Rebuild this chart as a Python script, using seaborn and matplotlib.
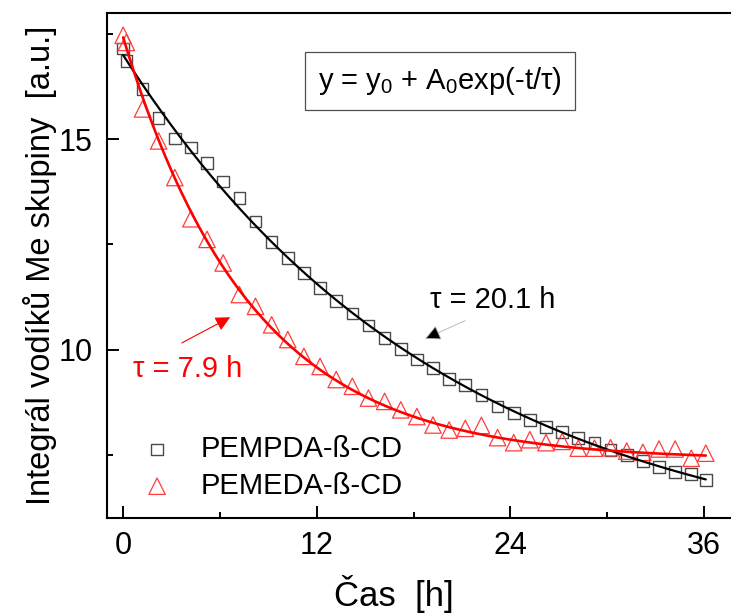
import numpy as np
import pandas as pd
import matplotlib
matplotlib.use("Agg")
import matplotlib.pyplot as plt
import seaborn as sns

# cas [h] a integral vodiku Me skupiny
cas = [0, 0.2, 1.2, 2.2, 3.2, 4.2, 5.2, 6.2, 7.2, 8.2, 9.2, 10.2, 11.2, 12.2,
       13.2, 14.2, 15.2, 16.2, 17.2, 18.2, 19.2, 20.2, 21.2, 22.2, 23.2, 24.2,
       25.2, 26.2, 27.2, 28.2, 29.2, 30.2, 31.2, 32.2, 33.2, 34.2, 35.2, 36.1]
pempda = [17.16, 16.86, 16.19, 15.51, 15.02, 14.80, 14.44, 14.00, 13.60, 13.05,
          12.56, 12.18, 11.82, 11.47, 11.15, 10.86, 10.57, 10.28, 10.01, 9.77,
          9.57, 9.30, 9.16, 8.93, 8.65, 8.49, 8.33, 8.16, 8.05, 7.90, 7.78, 7.62,
          7.49, 7.36, 7.21, 7.10, 7.04, 6.90]
pemeda = [17.47, 17.30, 15.72, 14.96, 14.09, 13.11, 12.62, 12.06, 11.31, 11.03,
          10.59, 10.24, 9.84, 9.60, 9.29, 9.13, 8.85, 8.77, 8.57, 8.41, 8.21,
          8.09, 8.13, 8.20, 7.91, 7.79, 7.86, 7.79, 7.82, 7.66, 7.66, 7.67, 7.59,
          7.56, 7.64, 7.64, 7.42, 7.54]

# parametry fitu y = y0 + A0*exp(-t/tau)
fit_pempda = {"y0": 4.91, "A0": 12.09, "tau": 20.1}
fit_pemeda = {"y0": 7.38, "A0": 10.04, "tau": 7.9}

x_ticks = [0, 12, 24, 36]
y_ticks = [10, 15]

sns.set_style("ticks")
plt.rcParams["font.family"] = ["Liberation Sans", "DejaVu Sans"]
plt.rcParams["mathtext.fontset"] = "custom"
plt.rcParams["mathtext.rm"] = "Liberation Sans"
for key in ["text.color", "axes.labelcolor", "xtick.color", "ytick.color"]:
    plt.rcParams[key] = "black"

fig = plt.figure(figsize=(7.31, 6.13), dpi=100)
ax = fig.add_axes([107 / 731, 95 / 613, 623 / 731, 505 / 613])

df = pd.DataFrame({"cas": cas, "pempda": pempda, "pemeda": pemeda})
sns.scatterplot(data=df, x="cas", y="pempda", marker="s", s=70,
                facecolor="none", edgecolor="#4a4a4a", linewidth=1.0,
                label="PEMPDA-ß-CD", ax=ax, zorder=2)
sns.scatterplot(data=df, x="cas", y="pemeda", marker="^", s=140,
                facecolor="none", edgecolor="#ff3c3c", linewidth=0.9,
                label="PEMEDA-ß-CD", ax=ax, zorder=2)

t = np.linspace(cas[0], cas[-1], 300)
fit_df = pd.DataFrame({
    "t": t,
    "pempda": fit_pempda["y0"] + fit_pempda["A0"] * np.exp(-t / fit_pempda["tau"]),
    "pemeda": fit_pemeda["y0"] + fit_pemeda["A0"] * np.exp(-t / fit_pemeda["tau"]),
})
sns.lineplot(data=fit_df, x="t", y="pempda", color="black", lw=1.6, ax=ax,
             legend=False, zorder=3)
sns.lineplot(data=fit_df, x="t", y="pemeda", color="red", lw=1.9, ax=ax,
             legend=False, zorder=3)

ax.set_xlim(-1, 37.6)
ax.set_ylim(6, 18)
ax.set_xticks(x_ticks)
ax.set_xticks([6, 18, 30], minor=True)
ax.set_yticks(y_ticks)
ax.set_yticks([7.5, 12.5, 17.5], minor=True)
ax.tick_params(which="both", direction="in", width=1.4, color="black",
               labelsize=22, labelcolor="black")
ax.tick_params(which="major", length=8.5)
ax.tick_params(which="minor", length=4.5)
ax.tick_params(axis="x", pad=9.5)
ax.tick_params(axis="y", pad=10.5)
for sp in ax.spines.values():
    sp.set_linewidth(1.5)
    sp.set_color("black")
ax.spines["right"].set_visible(False)

ax.set_xlabel("Čas  [h]", fontsize=25)
ax.set_ylabel("Integrál vodíků Me skupiny  [a.u.]", fontsize=23.5)
ax.xaxis.set_label_coords(0.46, -0.112)
ax.yaxis.set_label_coords(-0.08, 0.5)

ax.text(19.64, 16.39, "y = y$_0$ + A$_0$exp(-t/τ)", fontsize=21,
        ha="center", va="center",
        bbox=dict(boxstyle="square,pad=0.45", fc="white", ec="#505050", lw=0.9))

ax.annotate("", xy=(18.71, 10.26), xytext=(21.19, 10.69),
            arrowprops=dict(arrowstyle="-|>", lw=0.6, ec="#b0b0b0", fc="black",
                            mutation_scale=24, shrinkA=0, shrinkB=0))
ax.text(19.02, 10.99, "τ = 20.1 h", fontsize=21, ha="left", va="baseline")

ax.annotate("", xy=(6.63, 10.77), xytext=(3.63, 10.16),
            arrowprops=dict(arrowstyle="-|>", lw=0.8, color="red",
                            mutation_scale=22, shrinkA=0, shrinkB=0))
ax.text(0.62, 9.34, "τ = 7.9 h", fontsize=21, ha="left", va="baseline", color="red")

ax.legend(loc="center left", bbox_to_anchor=(0.057, 0.1), frameon=False,
          fontsize=21, handlelength=1.0, handletextpad=1.0, borderpad=0,
          borderaxespad=0, labelspacing=0.3)

fig.savefig("out.png", dpi=100)
